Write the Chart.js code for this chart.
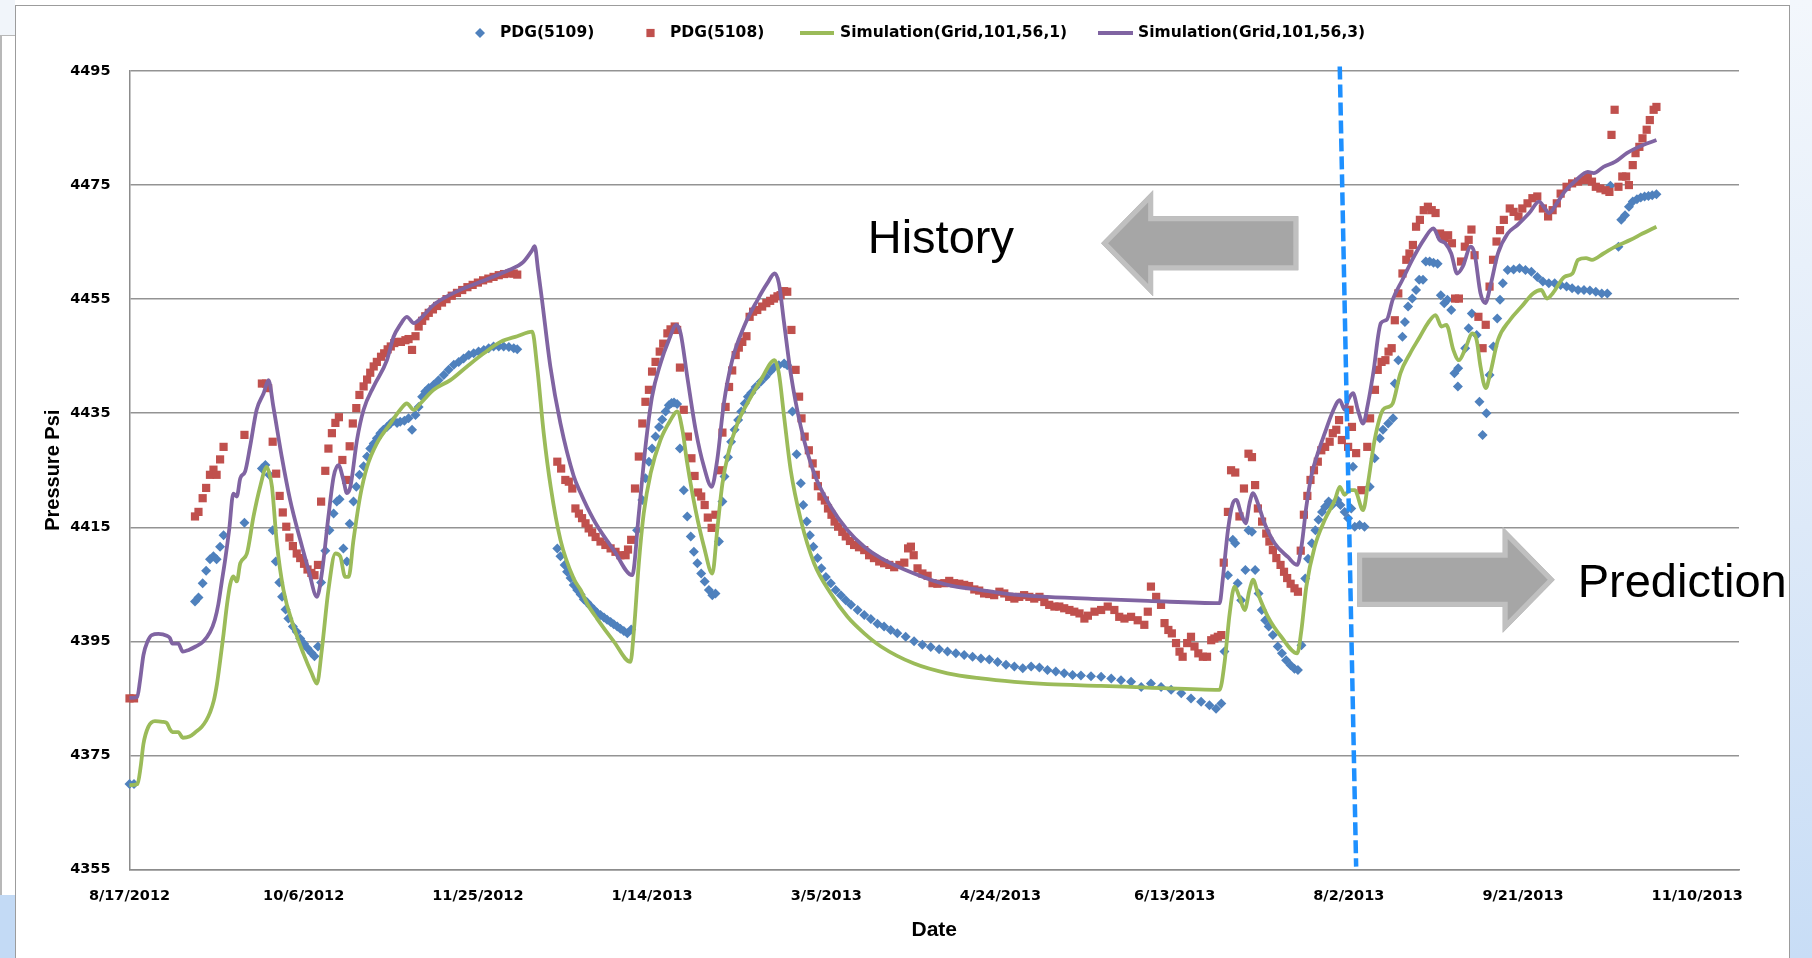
<!DOCTYPE html>
<html>
<head>
<meta charset="utf-8">
<title>PDG pressure history and prediction</title>
<script src="https://cdn.jsdelivr.net/npm/chart.js@4.4.1/dist/chart.umd.min.js"></script>
<style>
  html, body { margin: 0; padding: 0; background: #ffffff; }
  #wrap { position: relative; width: 1812px; height: 958px; overflow: hidden; background: #ffffff; }
  .pane { position: absolute; box-sizing: border-box; }
  #c { position: absolute; left: 0; top: 0; }
</style>
</head>
<body>
<div id="wrap">
  <div class="pane" style="left:0;top:0;width:15px;height:35px;background:#f1f5fa;"></div>
  <div class="pane" style="left:0;top:35px;width:15px;height:860px;background:#ffffff;border-top:1px solid #b8b8b8;border-left:2px solid #b8b8b8;"></div>
  <div class="pane" style="left:0;top:895px;width:15px;height:63px;background:#c3daf5;"></div>
  <div class="pane" style="left:15px;top:5px;width:1775px;height:960px;border-left:1px solid #9c9c9c;border-top:1px solid #9c9c9c;border-right:1px solid #9c9c9c;"></div>
  <div class="pane" style="left:1790px;top:0;width:22px;height:958px;background:linear-gradient(180deg,#f3f7fc 0%,#dde9f8 55%,#c8ddf6 100%);"></div>
  <canvas id="c" width="1812" height="958"></canvas>
</div>
<script>
// Days counted from 8/17/2012; x-axis labels every 50 days.
const tickDays = [0, 50, 100, 150, 200, 250, 300, 350, 400, 450];
const tickLabels = ['8/17/2012', '10/6/2012', '11/25/2012', '1/14/2013', '3/5/2013',
                    '4/24/2013', '6/13/2013', '8/2/2013', '9/21/2013', '11/10/2013'];

// Gauge PDG(5109), pressure in psi
const pdg5109Day = [0, 1.3, 18.8, 19.8, 21, 22, 23.1, 24.1, 25, 26, 27, 33, 38, 39, 40.1, 41.1, 42, 43, 43.8, 44.8,
  45.6, 46.9, 48, 49, 50.1, 51.1, 52.2, 53.1, 54.1, 55, 56.2, 57.4, 58.6, 59.5, 60.3, 61.4, 62.4, 63.2, 64.3, 65.1,
  66, 67.2, 68.2, 69.1, 70.1, 71, 72, 72.9, 73.9, 74.9, 75.8, 76.8, 77.7, 78.9, 80.1, 81.1, 82.1, 83, 84, 84.9,
  85.9, 87.3, 88.7, 90.2, 91.6, 93.1, 94.5, 95.9, 97.4, 98.8, 100.2, 101.7, 103.1, 104.5, 106, 107.4, 108.9, 110.3, 111.3,
  122.8, 123.7, 124.9, 125.6, 126.6, 127.5, 128.5, 129.5, 130.4, 131.4, 132.3, 133.3, 134.2, 135.2, 136.2, 137.1, 138.1,
  139, 140, 140.9, 141.9, 142.9, 144, 145.7, 147.2, 148.1, 149.1, 150, 151, 152, 152.9, 153.9, 154.8, 155.6, 156.3,
  157.2, 158, 159.1, 160.1, 161.1, 162, 163, 164.1, 165.1, 166.3, 167.3, 168.2, 169.2, 170.2, 170.8, 171.8, 172.7,
  173.7, 174.7, 175.6, 176.6, 177.5, 178.5, 179.7, 181.2, 182.6, 183.9, 185, 186.4, 187.9, 188.8, 190.3, 191.5, 192.7,
  193.4, 194.4, 195.3, 196.3, 197.5, 198.6, 199.9, 201.3, 202.7, 204.2, 205.6, 207.1, 209, 210.9, 212.8, 214.7, 216.6,
  218.5, 220.4, 222.8, 225.2, 227.6, 230, 232.4, 234.8, 237.2, 239.6, 242, 244.4, 246.8, 249.2, 251.6, 254, 256.4,
  258.8, 261.2, 263.5, 265.9, 268.3, 270.7, 273.1, 276, 278.9, 281.8, 284.6, 287.5, 290.4, 293.2, 296.1, 299, 301.9,
  304.7, 307.6, 310, 311.9, 313.4, 314.3, 315.3, 316.7, 317.4, 318.1, 319.1, 320.3, 321.2, 322.2, 323.1, 324.1, 325,
  326, 327, 328.2, 329.6, 330.8, 332, 333.3, 334.4, 335.4, 336.4, 337.5, 338.3, 339.4, 340.4, 341.3, 342.3, 343.2,
  344.2, 345.2, 346.7, 347.6, 348.8, 349.8, 350.7, 351.2, 351.7, 353.1, 354.5, 356, 357.4, 358.9, 359.8, 361.3, 362.7,
  363.2, 364.2, 365.4, 366.1, 367, 368.2, 369.3, 370.2, 371.3, 372.1, 373.2, 374.3, 375.5, 376.4, 377.4, 378.3, 379.4,
  380.3, 381.3, 381.4, 383.4, 384.4, 385.3, 386.7, 387.5, 388.4, 389.5, 390.4, 391.5, 392.6, 393.4, 394.2, 395.6,
  397.3, 399, 400.7, 402.4, 404.1, 405.7, 407.4, 409.1, 410.8, 412.5, 414.1, 415.8, 417.5, 419.2, 420.9, 422.6, 424.2,
  425.1, 427.4, 428.2, 429.3, 430.4, 431.5, 432.7, 433.8, 434.9, 436, 437.1, 438.3];
const pdg5109Psi = [4370, 4370, 4402, 4402.7, 4405.2, 4407.4, 4409.4, 4409.9, 4409.4, 4411.6, 4413.6, 4415.8, 4425.3, 4425.9, 4424.2, 4414.5, 4409, 4405.3, 4402.8, 4400.6,
  4399, 4397.6, 4396.7, 4395.5, 4394.6, 4393.8, 4393, 4392.4, 4394.1, 4405.3, 4410.9, 4414.5, 4417.4, 4419.5, 4419.9, 4411.3, 4409, 4415.6, 4419.5, 4422.1,
  4424.2, 4425.7, 4427.4, 4428.8, 4429.7, 4430.6, 4431.5, 4432.1, 4432.6, 4433.2, 4433.7, 4433.3, 4433.5, 4433.7, 4434.1, 4432.1, 4434.7, 4436.1, 4437.9, 4438.8,
  4439.4, 4440, 4440.8, 4441.7, 4442.6, 4443.5, 4444, 4444.6, 4445.2, 4445.5, 4445.8, 4446.1, 4446.4, 4446.7, 4446.7, 4446.7, 4446.6, 4446.4, 4446.2,
  4411.3, 4409.9, 4408.4, 4407.2, 4406.1, 4404.9, 4404, 4403.2, 4402.4, 4401.8, 4401.2, 4400.6, 4400, 4399.6, 4399.2, 4398.8, 4398.4,
  4398, 4397.6, 4397.2, 4396.8, 4396.4, 4397.1, 4414.5, 4419.8, 4423.6, 4426.5, 4428.8, 4430.9, 4432.6, 4433.9, 4435.3, 4436.4, 4436.8, 4436.9,
  4436.6, 4428.8, 4421.5, 4416.9, 4413.4, 4410.7, 4408.7, 4406.9, 4405.5, 4404, 4403.1, 4403.4, 4412.5, 4419.5, 4423.9, 4427.3, 4430,
  4432.1, 4433.8, 4435.3, 4436.7, 4437.9, 4438.6, 4439.6, 4440.5, 4441.4, 4442.3, 4443, 4443.4, 4443.7, 4443.4, 4435.3, 4427.8, 4422.7,
  4418.9, 4416, 4413.6, 4411.6, 4409.6, 4407.8, 4406.3, 4405.2, 4404, 4403.1, 4402.2, 4401.4, 4400.5, 4399.6, 4398.9, 4398.1, 4397.6,
  4397, 4396.4, 4395.8, 4395, 4394.4, 4394, 4393.6, 4393.2, 4392.9, 4392.6, 4392.3, 4392, 4391.8, 4391.4, 4390.9, 4390.6, 4390.3,
  4390.6, 4390.4, 4390, 4389.7, 4389.4, 4389.1, 4389, 4388.9, 4388.8, 4388.5, 4388.2, 4387.9, 4387, 4387.6, 4387, 4386.5, 4385.9,
  4385, 4384.4, 4383.8, 4383.2, 4384.1, 4393.2, 4406.6, 4412.8, 4412.2, 4405.2, 4402.2, 4407.5, 4414.5, 4414.2, 4407.5, 4403.4, 4400.5,
  4398.7, 4397.6, 4396.1, 4394.1, 4392.9, 4391.7, 4390.8, 4390.2, 4390, 4394.3, 4406, 4409.5, 4412.2, 4414.5, 4416.3, 4417.7, 4418.6,
  4419.5, 4418.9, 4419.8, 4418.9, 4417.7, 4416.6, 4418.3, 4425.6, 4415.1, 4415.4, 4415.1, 4422.1, 4427.1, 4430.6, 4432.1, 4433.2, 4434.1,
  4440.2, 4444.3, 4448.4, 4451, 4453.7, 4455.1, 4456.6, 4458.4, 4458.4, 4461.6, 4461.6, 4461.4, 4461.2, 4455.7, 4454.3, 4454.9, 4453.1,
  4442, 4439.7, 4442.9, 4446.4, 4449.9, 4452.5, 4448.7, 4437, 4431.2, 4435, 4441.7, 4446.7, 4451.6, 4454.9, 4457.8, 4460.1,
  4460.2, 4460.4, 4460.1, 4459.8, 4458.9, 4458.1, 4457.8, 4457.8, 4457.5, 4457.2, 4456.9, 4456.6, 4456.6, 4456.5, 4456.3, 4456, 4456,
  4474.9, 4464.2, 4468.9, 4469.7, 4471.2, 4472.1, 4472.5, 4472.8, 4473, 4473.1, 4473.2, 4473.4];

// Gauge PDG(5108), pressure in psi
const pdg5108Day = [0, 1.3, 18.8, 19.8, 21, 22, 23.1, 24.1, 25, 26, 27, 33, 38, 39.2, 39.8, 41.1, 42.1, 43.1, 44, 45,
  45.9, 46.9, 48, 49, 50.1, 51.1, 52.2, 53.1, 54.1, 55, 56.2, 57.1, 58.1, 59.1, 60.1, 61.1, 62.2, 63.2, 64.1, 65.1,
  66, 67.2, 68.2, 69.1, 70.1, 71, 72.2, 73.1, 74.1, 75, 76, 76.9, 77.9, 79.2, 80.1, 81.1, 82.1, 83, 84, 84.9,
  85.9, 87.1, 88.3, 89.7, 91, 92.5, 94, 95.5, 97, 98.5, 100, 101.5, 103, 104.5, 106, 107.5, 109, 110.3, 111.3,
  122.8, 123.9, 125.1, 126.1, 127.1, 128, 129, 129.9, 130.9, 131.8, 132.8, 133.8, 135.2, 136.6, 138.1, 139.5, 140.9,
  142.4, 143.1, 144, 145.1, 146.2, 147.2, 148.1, 149.1, 150, 151, 152.2, 153.2, 154.4, 155.3, 156.5, 157.2, 158, 159.1,
  160.3, 161.3, 162.2, 163.2, 164.1, 165.1, 166, 167.1, 168.2, 169.5, 170.2, 171.1, 172.1, 173, 174, 174.9, 175.9,
  177.1, 178, 179, 180.2, 181.6, 182.8, 183.9, 185, 186, 186.9, 187.9, 188.8, 190, 191.2, 192.2, 192.9, 193.8, 195,
  196.1, 197, 197.6, 198.6, 199.6, 200.5, 201.5, 202.4, 203.4, 204.6, 205.6, 206.8, 208, 209.4, 210.9, 212.3, 213.7,
  215.2, 216.6, 218.1, 219.5, 221, 222.4, 223.5, 224.3, 225.1, 226.2, 227.6, 229.1, 230.5, 231.9, 233.9, 235.3, 236.7,
  238.2, 239.6, 241, 242.5, 243.9, 245.3, 246.8, 248.2, 249.7, 251.1, 252.5, 254, 255.4, 256.8, 258.3, 259.7, 261.2,
  262.6, 264, 265.5, 266.9, 268.3, 269.8, 271.2, 272.7, 274.1, 275.1, 277, 278.9, 280.8, 282.7, 284.1, 285.6, 287.5,
  289.4, 291.3, 292.3, 293.2, 294.7, 296.1, 297.1, 298.2, 299.2, 300.4, 301.4, 302.3, 303.6, 304.7, 305.7, 306.8, 308.1,
  309.3, 310.5, 311.4, 312.4, 313.4, 314.1, 315.3, 316.2, 317.4, 318.6, 319.9, 321.2, 322.2, 323.1, 323.9, 325.1, 326.3,
  327.2, 328.2, 329.2, 330.4, 331.4, 332.3, 333.3, 334.4, 335.4, 336.2, 337.1, 338.1, 339, 340, 341.1, 342.1, 343.2,
  344.5, 345.4, 346.4, 347.2, 348, 349.8, 350.2, 350.9, 352.1, 353.6, 355.3, 356.1, 357.5, 358.3, 359.4, 360.5, 361.4,
  362.3, 363.2, 364.2, 365.4, 366.5, 367.4, 368.4, 369.3, 370.4, 371.5, 372.7, 373.8, 374.9, 376.2, 377.4, 378.5, 379.6,
  380.5, 381.6, 382.2, 383.3, 384.4, 385.2, 386.1, 387.2, 388.4, 389.3, 390.4, 391.4, 392.4, 393.4, 394.5, 396.2, 397.3,
  398.7, 399.8, 401.3, 402.7, 404.1, 405.7, 407.2, 408.5, 409.7, 410.8, 412.5, 414.1, 415.8, 417.5, 418.6, 419.8, 420.9,
  422.2, 423.7, 424.8, 425.4, 426.3, 427.4, 428.5, 429.6, 430.4, 431.5, 432.3, 433.4, 434.3, 435.5, 436.4, 437.5, 438.3];
const pdg5108Psi = [4385, 4385, 4416.9, 4417.7, 4420.1, 4421.9, 4424.2, 4425.1, 4424.2, 4426.9, 4429.1, 4431.2, 4440.2, 4440.2, 4439.4, 4430, 4424.4, 4420.5, 4417.6, 4415.1,
  4413.2, 4411.7, 4410.4, 4409.6, 4408.6, 4407.6, 4407, 4406.6, 4408.4, 4419.5, 4424.9, 4428.8, 4431.5, 4433.3, 4434.3, 4426.8, 4423.3, 4429.2, 4433.2, 4435.9,
  4438.2, 4439.7, 4440.9, 4442.1, 4443.2, 4444, 4444.9, 4445.5, 4446.2, 4446.7, 4447.3, 4447.5, 4447.5, 4447.8, 4448, 4446.1, 4448.5, 4450.2, 4451.2, 4452,
  4452.6, 4453.2, 4453.8, 4454.4, 4455, 4455.6, 4456.1, 4456.6, 4457.1, 4457.5, 4457.9, 4458.3, 4458.6, 4458.9, 4459.2, 4459.4, 4459.5, 4459.5, 4459.3,
  4426.5, 4425.3, 4423.3, 4423, 4421.8, 4418.3, 4417.4, 4416.6, 4415.7, 4414.8, 4414.1, 4413.3, 4412.5, 4411.9, 4411.3, 4410.7, 4410.1,
  4410.1, 4411.1, 4412.8, 4421.8, 4427.4, 4433.2, 4437, 4439.1, 4442.3, 4444, 4445.8, 4447.2, 4449, 4449.7, 4450.2, 4449.6, 4443, 4435.6,
  4430.9, 4427.1, 4424, 4421.1, 4420.4, 4418.9, 4416.7, 4414.9, 4417.2, 4425, 4431.6, 4436.1, 4439.6, 4442.5, 4445.2, 4446.5, 4447.5,
  4448.5, 4451.9, 4452.8, 4453.1, 4453.7, 4454.3, 4454.7, 4455.1, 4455.5, 4455.7, 4456.4, 4456.3, 4449.6, 4442.6, 4437.9, 4434.1, 4430.9, 4428.5,
  4426.2, 4424.2, 4422.2, 4420.4, 4419.7, 4418.3, 4417.2, 4416, 4415.1, 4414.2, 4413.4, 4412.6, 4411.9, 4411.5, 4411, 4410.1, 4409.6,
  4409, 4408.7, 4408.4, 4408, 4408.4, 4408.8, 4411.3, 4411.6, 4410.1, 4407.8, 4406.9, 4406.5, 4405.2, 4405.1, 4405.2, 4405.6, 4405.2,
  4405.1, 4404.9, 4404.7, 4404.1, 4403.9, 4403.4, 4403.3, 4403.1, 4403.7, 4403.4, 4402.8, 4402.5, 4402.8, 4403.1, 4402.8, 4402.5, 4402.8,
  4401.9, 4401.4, 4401.1, 4401.1, 4400.8, 4400.5, 4400.2, 4399.9, 4399, 4399.5, 4400.2, 4400.5, 4401.1, 4400.5, 4399.3, 4399, 4399.3,
  4398.7, 4397.9, 4400.2, 4404.6, 4402.8, 4401.4, 4398.2, 4397, 4396.4, 4394.7, 4393.2, 4392.3, 4394.7, 4395.8, 4394.1, 4392.9, 4392.3,
  4392.3, 4395.2, 4395.5, 4395.8, 4396.1, 4408.8, 4417.7, 4425, 4424.6, 4416.9, 4421.8, 4427.9, 4427.3, 4422.4, 4418.3, 4416, 4413.9,
  4412.5, 4411, 4409.6, 4408.4, 4407.2, 4406.1, 4405.1, 4404.3, 4403.7, 4410.9, 4417.2, 4420.5, 4423.3, 4425, 4426.5, 4428.5, 4429.1,
  4430, 4431.5, 4432.1, 4433.8, 4430.3, 4429.1, 4435.6, 4432.6, 4428, 4421.5, 4429.1, 4434.1, 4439.1, 4442.6, 4444, 4444.3, 4445.8,
  4446.4, 4451.3, 4456, 4459.5, 4461.9, 4463, 4464.5, 4467.7, 4468.9, 4470.6, 4471.2, 4470.6, 4470.1, 4466.5, 4465.7, 4466.2, 4464.8,
  4455.1, 4455.1, 4461.6, 4464.2, 4465.4, 4467.2, 4462.7, 4451.9, 4446.4, 4450.5, 4457.2, 4461.9, 4465.1, 4467.1, 4468.9, 4470.9, 4470.3,
  4469.5, 4470.9, 4471.8, 4472.7, 4473, 4470.9, 4469.5, 4470.6, 4471.8, 4473.5, 4474.7, 4475.3, 4475.6, 4475.9, 4476.5, 4475.6, 4474.7,
  4474.4, 4474.1, 4473.8, 4483.8, 4488.2, 4474.7, 4476.5, 4476.5, 4475, 4478.5, 4480.6, 4481.7, 4483.2, 4484.7, 4486.4, 4488.2, 4488.7];

// Simulation(Grid,101,56,1)
const sim1Day = [0, 2.3, 3.2, 4, 5.4, 7.3, 9.5, 10.7, 11.6, 12.3, 14, 15.3, 17.2, 19, 20.7, 22, 23.1, 24.2, 25.1, 26,
  27, 28, 28.9, 29.8, 30.8, 31.8, 33.7, 35.6, 37.5, 39.4, 40.1, 40.9, 42.3, 44.2, 47.1, 49.9, 52.3, 53.8, 55.2, 57.1,
  59.1, 60.5, 61.9, 62.9, 64.3, 66.2, 68.2, 71, 74.9, 77.7, 79.6, 81.6, 83.5, 87.3, 92.1, 96.9, 101.7, 106.5, 111.3, 115.6,
  117, 118.9, 120.9, 123.7, 127.5, 129.5, 131.4, 134.2, 139, 143.8, 144.8, 146.2, 147.6, 149.6, 152.4, 155.3, 157.2, 158.7, 160.1, 162.5,
  164.9, 167.3, 168.7, 170.2, 172.1, 174.5, 177.3, 181.2, 185.2, 186.4, 187.9, 189.8, 192.7, 196.5, 201.3, 206.1, 210.9, 215.7, 225.2, 234.8,
  244.4, 254, 263.5, 278.9, 292.3, 312.9, 314.3, 315.8, 317.2, 318.6, 320.1, 321.5, 322.5, 323.9, 326.8, 330.6, 335.2, 336.4, 337.8, 340.2,
  343.1, 346, 347.4, 348.8, 350.2, 351.7, 354.1, 355.5, 357.4, 359.8, 361.3, 362.6, 364.8, 367.6, 370.4, 372.7, 374.9, 376.6, 378, 380,
  381.6, 383.3, 385.5, 386.7, 387.8, 389.3, 390.6, 392.8, 396.2, 399.6, 402.9, 405.2, 406.9, 408.5, 411.9, 414.2, 415.8, 418.1, 419.8, 423.1,
  426.5, 430.9, 434.3, 438.3];
const sim1Psi = [4369.8, 4370, 4373, 4377, 4380, 4381, 4380.9, 4380.7, 4379.6, 4379.1, 4379.1, 4378.1, 4378.3, 4379.1, 4380, 4381.1, 4382.5, 4384.6, 4387.5, 4391.5,
  4396.3, 4401.5, 4405, 4406.4, 4405.5, 4408.7, 4410.4, 4416.9, 4422.1, 4425.6, 4424.5, 4422.1, 4412.2, 4404, 4397.6, 4392.9, 4389.4, 4387.6, 4393.5, 4404,
  4410.4, 4409.9, 4406.3, 4406.3, 4412.8, 4420.4, 4425.6, 4429.7, 4433.2, 4435.6, 4436.7, 4435.6, 4436.7, 4439.1, 4440.8, 4443.2, 4445.5, 4447.5, 4448.5, 4449.3,
  4443.2, 4431.5, 4422.1, 4412.8, 4406, 4404, 4401.6, 4399, 4395, 4391.4, 4397, 4408.7, 4417.4, 4424.5, 4430.3, 4433.8, 4435.3, 4432.1, 4426.2, 4418,
  4411.6, 4406.9, 4414.5, 4422.7, 4428.5, 4433.2, 4436.7, 4440.8, 4444.3, 4442, 4434.4, 4425, 4416.3, 4408.7, 4403.4, 4399.3, 4396.4, 4394.1, 4391.1, 4389.4,
  4388.5, 4387.9, 4387.5, 4387.2, 4386.9, 4386.5, 4391.1, 4399.9, 4404.6, 4402.8, 4400.5, 4404, 4405.8, 4403.4, 4399.3, 4395.8, 4392.9, 4397, 4404.6, 4411.6,
  4416.3, 4419.8, 4422.1, 4420.7, 4421.5, 4421.5, 4418, 4422.7, 4430.3, 4435.6, 4436.1, 4436.7, 4442, 4445.5, 4448.4, 4450.8, 4452.2, 4450.2, 4450.5, 4446.1,
  4444.3, 4446.1, 4449, 4447.8, 4443.2, 4439.4, 4442, 4447.8, 4451.3, 4453.7, 4456, 4456.6, 4455.1, 4456, 4458.9, 4459.5, 4461.9, 4462.2, 4461.9, 4463,
  4464.2, 4465.4, 4466.5, 4467.7];

// Simulation(Grid,101,56,3)
const sim3Day = [0, 2.2, 3, 4, 5.2, 6.4, 8.3, 10.7, 11.6, 12.3, 14, 15.3, 17, 19, 21.2, 23.1, 24.5, 25.5, 26.5, 27.5,
  28.6, 29.8, 30.8, 31.8, 33.2, 34.6, 36.5, 38.5, 39.9, 41.3, 43.7, 46.1, 49, 51.4, 53.8, 55.2, 57.1, 58.6, 60, 61.4,
  62.4, 63.4, 65.3, 67.2, 70.1, 73.9, 75.8, 77.7, 79.6, 81.6, 83.5, 87.3, 90.6, 95.6, 102.3, 108.9, 113, 115.5, 116.3, 117.3,
  118.4, 120.8, 123.7, 127.5, 129.5, 131.4, 134.2, 139, 144.3, 146.2, 148.1, 150, 152.4, 154.8, 157, 158.2, 160.1, 162.5, 164.9, 167.1,
  168.7, 170.6, 173, 176.4, 180.2, 183.1, 185.2, 186.4, 187.9, 189.8, 192.7, 196.5, 201.3, 206.1, 210.9, 215.7, 225.2, 234.8, 244.4, 254,
  263.5, 278.9, 292.3, 312.9, 313.8, 315.3, 316.7, 317.7, 319.1, 320.4, 321.5, 322.5, 323.9, 325.8, 328.7, 332.5, 335.2, 336.4, 337.8, 339.2,
  341.1, 343.1, 345.4, 347.4, 348.8, 349.8, 351.2, 352.6, 354.1, 355.5, 357, 359.2, 360.9, 362.6, 365.4, 368.2, 371.5, 374.3, 376, 377.7,
  379.4, 381.1, 382.7, 385, 386.1, 387.8, 389.2, 390.6, 392.8, 395.6, 398.4, 401.8, 404.6, 406.3, 407.4, 409.7, 411.9, 415.3, 418.6, 420.3,
  423.1, 426.5, 429.8, 433.2, 438.3];
const sim3Psi = [4385.1, 4385.2, 4388, 4392.6, 4395, 4396.1, 4396.3, 4396, 4395.6, 4394.6, 4394.6, 4393.2, 4393.5, 4394.1, 4395, 4396.6, 4398.8, 4401.5, 4405.5, 4409.5,
  4414.5, 4420.9, 4420.4, 4423.6, 4424.8, 4429.1, 4435.6, 4438.5, 4440.8, 4436.1, 4427.4, 4419.8, 4412.8, 4407.5, 4402.8, 4406.9, 4416.9, 4423.9, 4425.9, 4423.3,
  4421, 4422.1, 4430.3, 4435.6, 4439.7, 4444.3, 4448.4, 4450.5, 4451.9, 4450.8, 4451.6, 4454, 4455.3, 4456.8, 4458.4, 4460.1, 4461.5, 4463.5, 4464.3, 4460,
  4454.9, 4443.2, 4433.2, 4424, 4421, 4418.5, 4415.3, 4411, 4406.6, 4417.4, 4429.1, 4437.9, 4443.7, 4447.8, 4450.5, 4449, 4441.4, 4432.1, 4425.6, 4422.1,
  4426.8, 4436.7, 4444.3, 4450.2, 4454.8, 4457.8, 4459.5, 4457.8, 4450.8, 4442, 4432.6, 4424.5, 4418.6, 4414.5, 4411.6, 4409.6, 4406.9, 4404.9, 4404, 4403.2,
  4402.8, 4402.4, 4402.1, 4401.7, 4405.8, 4414.5, 4419.2, 4419.8, 4417.4, 4415.7, 4419.2, 4421, 4419.2, 4415.7, 4412.2, 4409.8, 4408.4, 4411.6, 4418.6, 4423.9,
  4428, 4431.5, 4435.3, 4437.3, 4435.6, 4437.3, 4438.5, 4435.6, 4433.2, 4436.7, 4442, 4450.8, 4451.4, 4454.9, 4458.4, 4461.9, 4465.4, 4467.4, 4465.4, 4464.8,
  4463, 4459.5, 4460.7, 4464.2, 4463, 4456, 4454.3, 4457.2, 4463, 4466.5, 4468, 4470.1, 4472.1, 4470.9, 4470.1, 4471.8, 4473.8, 4475.9, 4477.3, 4477.1,
  4478.2, 4479.1, 4480.6, 4481.7, 4482.9];

// Annotation anchors, in axis units (day, psi)
const cutover = { day: [347.4, 352.1], psi: [4495.8, 4355.5] };
const historyNote = { text: 'History', day: 211.9, psi: 4463.1 };
const predictionNote = { text: 'Prediction', day: 415.7, psi: 4402.7 };
const historyArrow = { tailDay: 335.5, tipDay: 278.9, psi: 4464.8 };
const predictionArrow = { tailDay: 352.4, tipDay: 409.1, psi: 4405.8 };

const pts = (xs, ys) => xs.map((x, i) => ({ x: x, y: ys[i] }));

const BLUE = '#4f81bd', RED = '#c0504d', GREEN = '#9bbb59', PURPLE = '#8064a2';
const TICK_FONT = { family: '"DejaVu Sans", Verdana, sans-serif', size: 14.5, weight: 'bold' };

// Legend row across the top
const keySlots = [
  { mark: 480, text: 500 },
  { mark: 650.5, text: 670 },
  { mark: [800, 834], text: 840 },
  { mark: [1098, 1133], text: 1138 }
];
const seriesKey = {
  id: 'seriesKey',
  afterDraw(chart) {
    const ctx = chart.ctx;
    const y = 33;
    ctx.save();
    ctx.font = 'bold 15.5px "DejaVu Sans", Verdana, sans-serif';
    ctx.textBaseline = 'middle';
    ctx.textAlign = 'left';
    chart.data.datasets.forEach((ds, i) => {
      const slot = keySlots[i];
      if (Array.isArray(slot.mark)) {
        ctx.strokeStyle = ds.borderColor;
        ctx.lineWidth = 4;
        ctx.beginPath();
        ctx.moveTo(slot.mark[0], y);
        ctx.lineTo(slot.mark[1], y);
        ctx.stroke();
      } else {
        ctx.fillStyle = ds.backgroundColor;
        Chart.helpers.drawPoint(ctx, {
          pointStyle: ds.pointStyle, radius: ds.pointRadius, rotation: 0, borderWidth: 0
        }, slot.mark, y);
      }
      ctx.fillStyle = '#000000';
      ctx.fillText(ds.label, slot.text, y);
    });
    ctx.restore();
  }
};

function arrowPath(ctx, tailX, tipX, y) {
  const dir = tipX > tailX ? 1 : -1;
  const headLen = 52, headHalf = 53, shaftHalf = 27;
  const base = tipX - dir * headLen;
  ctx.beginPath();
  ctx.moveTo(tailX, y - shaftHalf);
  ctx.lineTo(base, y - shaftHalf);
  ctx.lineTo(base, y - headHalf);
  ctx.lineTo(tipX, y);
  ctx.lineTo(base, y + headHalf);
  ctx.lineTo(base, y + shaftHalf);
  ctx.lineTo(tailX, y + shaftHalf);
  ctx.closePath();
}

// Dashed cut-over line, block arrows and their captions
const notes = {
  id: 'notes',
  afterDatasetsDraw(chart) {
    const ctx = chart.ctx;
    const xs = chart.scales.x, ys = chart.scales.y;
    ctx.save();
    [historyArrow, predictionArrow].forEach(a => {
      const y = ys.getPixelForValue(a.psi);
      arrowPath(ctx, xs.getPixelForValue(a.tailDay), xs.getPixelForValue(a.tipDay), y);
      ctx.fillStyle = '#a6a6a6';
      ctx.fill();
      ctx.save();
      ctx.clip();
      ctx.lineWidth = 10;
      ctx.strokeStyle = '#c0c0c0';
      ctx.stroke();
      ctx.restore();
    });
    ctx.fillStyle = '#000000';
    ctx.font = '47px "Liberation Sans", Arial, sans-serif';
    ctx.textBaseline = 'alphabetic';
    ctx.textAlign = 'left';
    [historyNote, predictionNote].forEach(n => {
      ctx.fillText(n.text, xs.getPixelForValue(n.day), ys.getPixelForValue(n.psi));
    });
    ctx.strokeStyle = '#1e90ff';
    ctx.lineWidth = 4.5;
    ctx.setLineDash([13, 5]);
    ctx.beginPath();
    ctx.moveTo(xs.getPixelForValue(cutover.day[0]), ys.getPixelForValue(cutover.psi[0]));
    ctx.lineTo(xs.getPixelForValue(cutover.day[1]), ys.getPixelForValue(cutover.psi[1]));
    ctx.stroke();
    ctx.restore();
  }
};

new Chart(document.getElementById('c'), {
  type: 'scatter',
  data: {
    datasets: [
      { label: 'PDG(5109)', data: pts(pdg5109Day, pdg5109Psi), showLine: false,
        pointStyle: 'rectRot', pointRadius: 5, backgroundColor: BLUE, borderColor: BLUE, borderWidth: 0, order: 4, clip: false },
      { label: 'PDG(5108)', data: pts(pdg5108Day, pdg5108Psi), showLine: false,
        pointStyle: 'rect', pointRadius: 5.8, backgroundColor: RED, borderColor: RED, borderWidth: 0, order: 3, clip: false },
      { label: 'Simulation(Grid,101,56,1)', data: pts(sim1Day, sim1Psi), showLine: true,
        pointRadius: 0, borderColor: GREEN, backgroundColor: GREEN, borderWidth: 3.8,
        cubicInterpolationMode: 'monotone', order: 2, clip: false },
      { label: 'Simulation(Grid,101,56,3)', data: pts(sim3Day, sim3Psi), showLine: true,
        pointRadius: 0, borderColor: PURPLE, backgroundColor: PURPLE, borderWidth: 3.8,
        cubicInterpolationMode: 'monotone', order: 1, clip: false }
    ]
  },
  options: {
    responsive: false,
    animation: false,
    events: [],
    devicePixelRatio: 1,
    layout: { padding: { left: 0, top: 71, right: 73, bottom: 0 } },
    plugins: { legend: { display: false }, tooltip: { enabled: false } },
    scales: {
      x: {
        type: 'linear',
        min: 0,
        max: 462,
        afterBuildTicks: s => { s.ticks = tickDays.map(v => ({ value: v })); },
        afterFit: s => { s.height = 88.5; },
        grid: { display: false, drawTicks: false },
        border: { display: true, color: '#8c8c8c', width: 1.5 },
        ticks: {
          color: '#000000', font: TICK_FONT, padding: 17.8, maxRotation: 0, autoSkip: false,
          callback: (v, i) => tickLabels[i]
        },
        title: {
          display: true, text: 'Date', color: '#000000',
          font: { family: '"Liberation Sans", Arial, sans-serif', size: 21, weight: 'bold' },
          padding: { top: 4, bottom: 15.4 }
        }
      },
      y: {
        type: 'linear',
        min: 4355,
        max: 4495,
        afterFit: s => { s.width = 129.5; },
        grid: { color: '#939393', lineWidth: 1.5, drawTicks: false },
        border: { display: true, color: '#8c8c8c', width: 1.5 },
        ticks: {
          stepSize: 20, color: '#000000', font: TICK_FONT, padding: 19,
          callback: v => String(v)
        },
        title: {
          display: true, text: 'Pressure Psi', color: '#000000',
          font: { family: '"Liberation Sans", Arial, sans-serif', size: 20, weight: 'bold' },
          padding: { top: 41, bottom: 4 }
        }
      }
    }
  },
  plugins: [seriesKey, notes]
});
</script>
</body>
</html>
